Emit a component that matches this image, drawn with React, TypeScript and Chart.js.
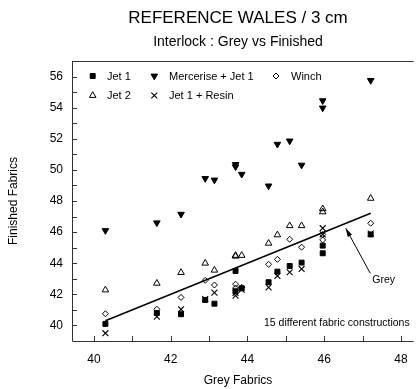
import React, { useEffect, useRef } from 'react';
import { Chart, registerables, PointElement } from 'chart.js';

Chart.register(...registerables);

// ---- data ----
const greyFabrics = [40.3, 41.64, 42.27, 42.9, 43.14, 43.69, 43.69, 43.85, 44.55, 44.78, 45.1, 45.41, 45.96, 45.96, 47.21];
const jet1 = [40.1, 40.8, 40.72, 41.64, 41.4, 43.5, 42.2, 42.39, 42.78, 43.46, 43.82, 44.04, 45.13, 44.64, 45.85];
const mercerise = [46.1, 46.6, 47.15, 49.45, 49.35, 50.35, 50.2, 49.72, 48.97, 51.65, 51.86, 50.31, 54.45, 53.98, 55.75];
const winch = [40.75, 41.04, 41.8, 42.9, 42.6, 42.65, 42.4, 42.45, 43.93, 44.25, 45.54, 45.03, 45.85, 45.5, 46.57];
const jet2 = [42.28, 42.71, 43.4, 44.0, 43.55, 44.5, 44.45, 44.5, 45.28, 45.82, 46.41, 46.41, 47.5, 47.3, 48.17];
const jet1Resin = [39.5, 40.57, 41.04, 41.7, 42.11, 41.92, 42.1, 42.3, 42.45, 43.18, 43.42, 43.63, 46.25, 45.85, 45.9];
const greyLine = [40.3, 47.21];

const xTickValues = [40, 41, 42, 43, 44, 45, 46, 47, 48];
const yTickValues = [40, 41, 42, 43, 44, 45, 46, 47, 48, 49, 50, 51, 52, 53, 54, 55, 56];

const seriesNames = ['Jet 1', 'Mercerise + Jet 1', 'Winch', 'Jet 2', 'Jet 1 + Resin'];
const titleText = 'REFERENCE WALES / 3 cm';
const subtitleText = 'Interlock : Grey vs Finished';
const xTitle = 'Grey Fabrics';
const yTitle = 'Finished Fabrics';
const noteText = '15 different fabric constructions';
const lineLabel = 'Grey';

const FONT = "'Liberation Sans', Arial, sans-serif";
const INK = '#000';
const AXIS = '#333';

const styles: any[] = [
  { pointStyle: 'rect', radius: 3.5, rotation: 0, backgroundColor: INK, borderColor: INK, borderWidth: 1 },
  { pointStyle: 'triangle', radius: 3.8, rotation: 180, backgroundColor: INK, borderColor: INK, borderWidth: 1 },
  { pointStyle: 'rectRot', radius: 3, rotation: 0, backgroundColor: 'rgba(0,0,0,0)', borderColor: INK, borderWidth: 1 },
  { pointStyle: 'triangle', radius: 3.8, rotation: 0, backgroundColor: 'rgba(0,0,0,0)', borderColor: INK, borderWidth: 1 },
  { pointStyle: 'crossRot', radius: 4.2, rotation: 0, backgroundColor: INK, borderColor: INK, borderWidth: 1.1 },
];

const seriesValues = [jet1, mercerise, winch, jet2, jet1Resin];

// legend layout (pixels)
const legendRows = [
  [{ i: 0, mx: 92.7, tx: 107 }, { i: 1, mx: 154.3, tx: 169 }, { i: 2, mx: 276, tx: 291 }],
  [{ i: 3, mx: 92.7, tx: 107 }, { i: 4, mx: 154.3, tx: 169 }],
];
const legendRowY = [76, 95.5];

const decorPlugin = {
  id: 'decor',
  afterDraw(chart: any) {
    const { ctx, chartArea: a, scales } = chart;
    const x = scales.x;
    const y = scales.y;
    ctx.save();
    // frame
    ctx.strokeStyle = AXIS;
    ctx.lineWidth = 1;
    ctx.beginPath();
    ctx.moveTo(a.left + 0.5, a.top + 0.5);
    ctx.lineTo(a.left + 0.5, a.bottom + 0.5);
    ctx.lineTo(a.right, a.bottom + 0.5);
    ctx.moveTo(a.left, a.top + 0.5);
    ctx.lineTo(a.right, a.top + 0.5);
    // inward ticks
    xTickValues.forEach((v) => {
      const px = Math.round(x.getPixelForValue(v)) + 0.5;
      ctx.moveTo(px, a.bottom);
      ctx.lineTo(px, a.bottom - 5);
    });
    yTickValues.forEach((v) => {
      const py = Math.round(y.getPixelForValue(v)) + 0.5;
      ctx.moveTo(a.left, py);
      ctx.lineTo(a.left + 5, py);
    });
    ctx.stroke();

    // titles
    ctx.fillStyle = INK;
    ctx.textAlign = 'center';
    ctx.textBaseline = 'middle';
    ctx.font = `17px ${FONT}`;
    ctx.fillText(titleText, 238, 18);
    ctx.font = `14px ${FONT}`;
    ctx.fillText(subtitleText, 238, 42);
    ctx.font = `12px ${FONT}`;
    ctx.fillText(xTitle, 238, 381);
    ctx.save();
    ctx.translate(14, 201);
    ctx.rotate(-Math.PI / 2);
    ctx.fillText(yTitle, 0, 0);
    ctx.restore();

    // legend
    ctx.font = `11px ${FONT}`;
    ctx.textAlign = 'left';
    legendRows.forEach((row, r) => {
      row.forEach((it) => {
        const pe: any = new (PointElement as any)({});
        pe.x = it.mx;
        pe.y = legendRowY[r];
        pe.options = { ...styles[it.i] };
        pe.draw(ctx);
        ctx.fillStyle = INK;
        ctx.fillText(seriesNames[it.i], it.tx, legendRowY[r] + 0.5);
      });
    });

    // note
    ctx.font = `10.5px ${FONT}`;
    ctx.fillText(noteText, x.getPixelForValue(44.43), y.getPixelForValue(40.18));

    // Grey label + arrow
    ctx.font = `10.5px ${FONT}`;
    ctx.fillText(lineLabel, x.getPixelForValue(47.25), y.getPixelForValue(42.92));
    const tx = x.getPixelForValue(47.2), ty = y.getPixelForValue(43.35);
    const hx = x.getPixelForValue(46.56), hy = y.getPixelForValue(46.25);
    ctx.strokeStyle = INK;
    ctx.lineWidth = 1;
    ctx.beginPath();
    ctx.moveTo(tx, ty);
    ctx.lineTo(hx, hy);
    ctx.stroke();
    const ang = Math.atan2(hy - ty, hx - tx);
    const L = 9, W = 0.28;
    ctx.beginPath();
    ctx.moveTo(hx, hy);
    ctx.lineTo(hx - L * Math.cos(ang - W), hy - L * Math.sin(ang - W));
    ctx.lineTo(hx - L * Math.cos(ang + W), hy - L * Math.sin(ang + W));
    ctx.closePath();
    ctx.fillStyle = INK;
    ctx.fill();
    ctx.restore();
  },
};

export default function App() {
  const ref = useRef<HTMLCanvasElement | null>(null);
  useEffect(() => {
    document.body.style.margin = '0';
    const canvas = ref.current;
    if (!canvas) return;
    const datasets: any[] = seriesValues.map((vals, i) => ({
      type: 'scatter',
      label: seriesNames[i],
      data: greyFabrics.map((g, k) => ({ x: g, y: vals[k] })),
      pointStyle: styles[i].pointStyle,
      pointRadius: styles[i].radius,
      pointRotation: styles[i].rotation,
      pointBackgroundColor: styles[i].backgroundColor,
      pointBorderColor: styles[i].borderColor,
      pointBorderWidth: styles[i].borderWidth,
      backgroundColor: styles[i].backgroundColor,
      borderColor: styles[i].borderColor,
      showLine: false,
    }));
    datasets.push({
      type: 'line',
      label: lineLabel,
      data: greyLine.map((v) => ({ x: v, y: v })),
      borderColor: INK,
      borderWidth: 1.5,
      pointRadius: 0,
      fill: false,
    });
    const chart = new Chart(canvas, {
      type: 'scatter',
      data: { datasets },
      options: {
        responsive: false,
        animation: false,
        events: [],
        layout: { padding: { top: 61, right: 0, bottom: 0, left: 0 } },
        font: { family: FONT } as any,
        plugins: { legend: { display: false }, tooltip: { enabled: false }, title: { display: false } },
        scales: {
          x: {
            type: 'linear',
            min: 39.43,
            max: 48.33,
            grid: { display: false, drawTicks: false },
            border: { display: false },
            afterBuildTicks: (s: any) => { s.ticks = xTickValues.map((v) => ({ value: v })); },
            afterFit: (s: any) => { s.height = 48; },
            ticks: {
              autoSkip: false,
              maxRotation: 0,
              padding: 11,
              color: INK,
              font: { family: FONT, size: 12 },
              callback: (v: any) => (Number(v) % 2 === 0 ? String(v) : ''),
            },
          },
          y: {
            type: 'linear',
            min: 39,
            max: 57,
            grid: { display: false, drawTicks: false },
            border: { display: false },
            afterBuildTicks: (s: any) => { s.ticks = yTickValues.map((v) => ({ value: v })); },
            afterFit: (s: any) => { s.width = 72; },
            ticks: {
              autoSkip: false,
              padding: 9,
              color: INK,
              font: { family: FONT, size: 12 },
              callback: (v: any) => (Number(v) % 2 === 0 ? String(v) : ''),
            },
          },
        },
      },
      plugins: [decorPlugin],
    } as any);
    return () => chart.destroy();
  }, []);
  return (
    <div style={{ width: 419, height: 389, background: '#fff' }}>
      <canvas ref={ref} width={419} height={389} style={{ display: 'block' }} />
    </div>
  );
}
